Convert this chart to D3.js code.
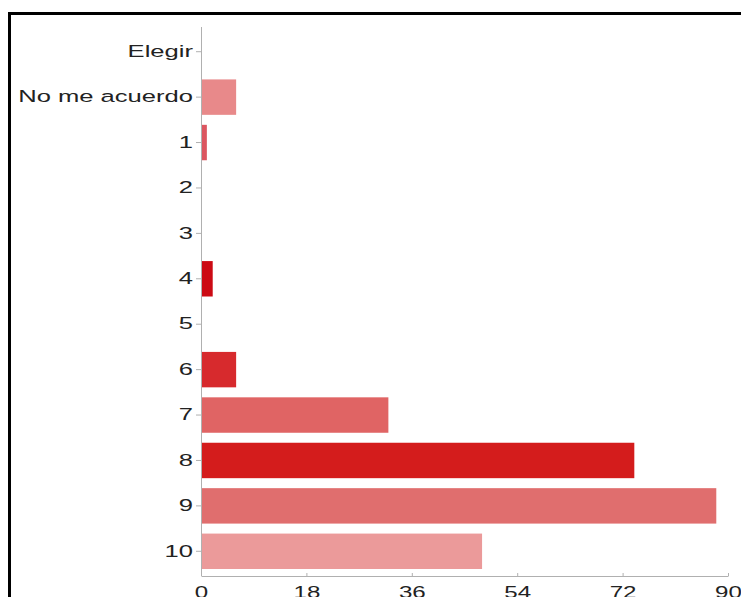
<!DOCTYPE html>
<html><head><meta charset="utf-8">
<script src="https://cdn.jsdelivr.net/npm/d3@7"></script>
<style>body{margin:0;background:#fff;} text{font-family:"Liberation Sans",Arial,sans-serif;}</style>
</head><body>
<svg id="c" width="741" height="597"></svg>
<script>
const categories = ["Elegir","No me acuerdo","1","2","3","4","5","6","7","8","9","10"];
const values = [0,6,1,0,0,2,0,6,32,74,88,48];
const colors = ["#e8898a","#e8898a","#dc5660","#e8898a","#e8898a","#cc0a14","#e8898a","#d72a2d","#e06464","#d41c1c","#e06e6e","#eb9a9a"];
const xTicks = [0,18,36,54,72,90];

const svg = d3.select("#c");
svg.append("path").attr("d","M741,13.5H9.5V597").attr("fill","none").attr("stroke","#000").attr("stroke-width",3);

const x = d3.scaleLinear().domain([0,90]).range([201,728]);
const y = d3.scaleBand().domain(categories).range([29,574]).paddingInner(0.22).paddingOuter(0.11);

svg.selectAll("rect.bar").data(categories).join("rect").attr("class","bar")
  .attr("x", x(0)+1).attr("y", d=>y(d))
  .attr("width", (d,i)=>Math.max(0, x(values[i])-x(0)-1))
  .attr("height", y.bandwidth())
  .attr("fill", (d,i)=>colors[i]);

const ya = svg.append("g").attr("transform",`translate(${x(0)},0)`)
  .call(d3.axisLeft(y).tickSize(5).tickSizeOuter(0).tickPadding(3));
ya.select(".domain").attr("stroke","#b0b0b0").attr("d",`M0.5,27V575`);
ya.selectAll(".tick line").attr("stroke","#b0b0b0");
ya.selectAll(".tick text").attr("font-size",16.5).attr("fill","#222")
  .style("font-family","'Liberation Sans',Arial,sans-serif")
  .attr("x",0).attr("transform","translate(-8,0) scale(1.55,1)");

const xa = svg.append("g").attr("transform",`translate(0,576)`)
  .call(d3.axisBottom(x).tickValues(xTicks).tickSize(-3).tickSizeOuter(0));
xa.select(".domain").attr("stroke","#b0b0b0");
xa.selectAll(".tick line").attr("stroke","#b0b0b0");
xa.selectAll(".tick text").attr("font-size",17).attr("fill","#222")
  .style("font-family","'Liberation Sans',Arial,sans-serif")
  .attr("y",0).attr("dy","0.71em").attr("transform","translate(0,10) scale(1.42,1)");
</script>
</body></html>
